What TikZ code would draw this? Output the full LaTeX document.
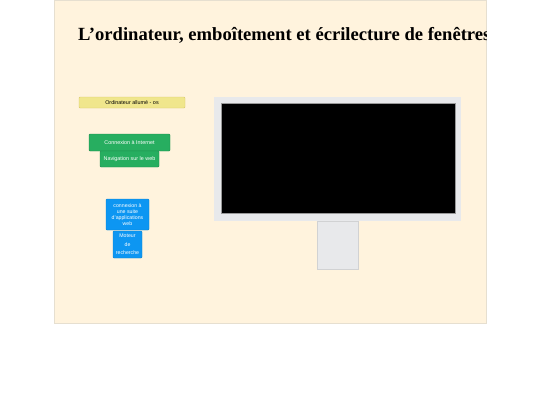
\documentclass[tikz,border=0pt]{standalone}
\usepackage{fontspec}
\setmainfont{Liberation Serif}
\setsansfont{Liberation Sans}
\definecolor{fond}{HTML}{FFF3DD}
\definecolor{jaune}{HTML}{F0E68C}
\definecolor{jauneb}{HTML}{D8C86A}
\definecolor{vert}{HTML}{27AE60}
\definecolor{bleu}{HTML}{0D96F2}
\definecolor{gris}{HTML}{E8E9EB}
\definecolor{bord}{HTML}{E6DFD0}
\tikzset{
  boite/.style={draw, rounded corners=1pt, inner sep=1pt, align=center, font=\sffamily\fontsize{5.4}{6.2}\selectfont},
  etiq/.style={boite, fill=jaune, draw=jauneb, text=black},
  vertbox/.style={boite, fill=vert, draw=vert!80!black, text=white},
  bleubox/.style={boite, fill=bleu, draw=bleu!85!black, text=white}
}
\begin{document}
\begin{tikzpicture}[x=1pt,y=-1pt]
    \useasboundingbox[fill=white] (0,0) rectangle (540,405);
    \fill[fond] (54,0) rectangle (486,323);
    \draw[bord, line width=0.6pt] (54,0) rectangle (486,323);

    % Titre
    \begin{scope}
      \clip (54,0) rectangle (486,323);
      \node[anchor=base west, inner sep=0pt, font=\bfseries\fontsize{18.6}{21}\selectfont] (titre) at (78,40)
        {L’ordinateur, emboîtement et écrilecture de fenêtres};
    \end{scope}

    % Boites de gauche
    \node[etiq, minimum width=106pt, minimum height=11pt] (os) at (132,102.5) {Ordinateur allumé - os};
    \node[vertbox, minimum width=81pt, minimum height=17pt] (internet) at (129.5,142.5) {Connexion à Internet};
    \node[vertbox, minimum width=59pt, minimum height=16pt] (web) at (129.5,159) {Navigation sur le web};
    \node[bleubox, minimum width=43pt, minimum height=31pt, font=\sffamily\fontsize{5.2}{6}\selectfont] (suite) at (127.5,214.5)
      {connexion à\\une suite\\d'applications\\web};
    \node[bleubox, minimum width=29pt, minimum height=27pt, font=\sffamily\fontsize{5.2}{8.6}\selectfont] (moteur) at (127.5,244.5)
      {Moteur\\de\\recherche};

    % Ecran
    \fill[gris] (214,97) rectangle (461,221);
    \draw[gray!80, fill=black, line width=0.5pt] (221,103) rectangle (455,213);
    \fill[gris] (317,221) rectangle (358,269);
    \draw[gris!90!black, line width=0.3pt] (317,221) rectangle (358,269);

\end{tikzpicture}
\end{document}
